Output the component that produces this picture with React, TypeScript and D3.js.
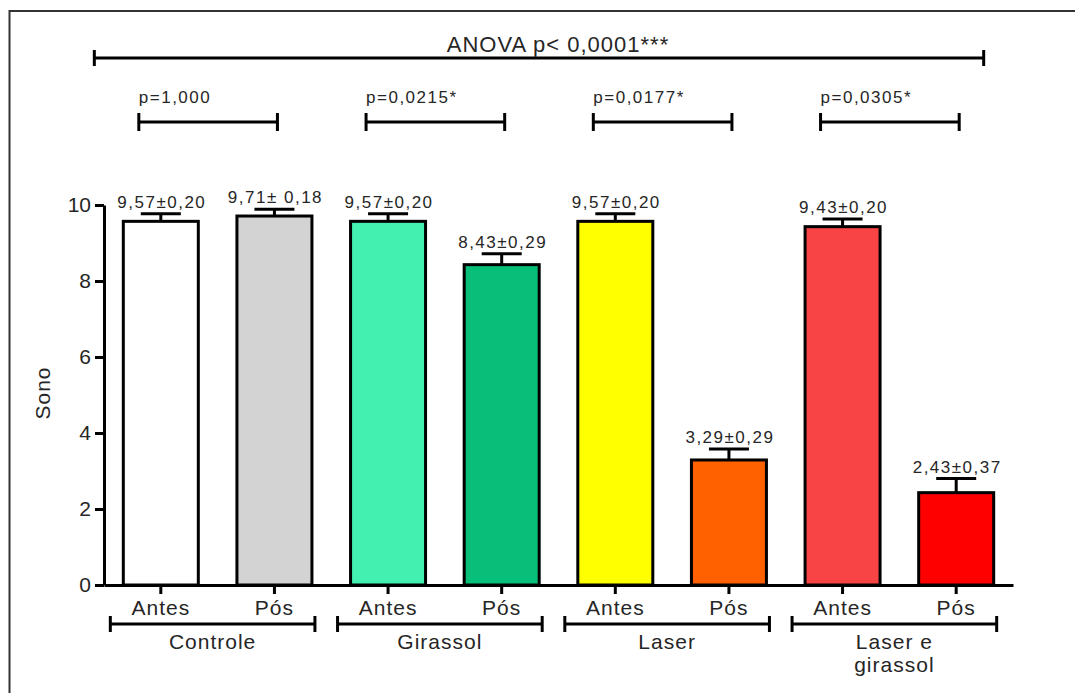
import React, { useEffect, useRef } from 'react';
import * as d3 from 'd3';

// valores (média ± EP)
const groups = ['Controle', 'Girassol', 'Laser', 'Laser e girassol'];
const groupLabelLines = [['Controle'], ['Girassol'], ['Laser'], ['Laser e', 'girassol']];
const moments = ['Antes', 'Pós'];
const categories = ['c-antes', 'c-pos', 'g-antes', 'g-pos', 'l-antes', 'l-pos', 'lg-antes', 'lg-pos'];
const means = [9.57, 9.71, 9.57, 8.43, 9.57, 3.29, 9.43, 2.43];
const sems = [0.2, 0.18, 0.2, 0.29, 0.2, 0.29, 0.2, 0.37];
const valueLabels = ['9,57±0,20', '9,71± 0,18', '9,57±0,20', '8,43±0,29', '9,57±0,20', '3,29±0,29', '9,43±0,20', '2,43±0,37'];
const barColors = ['#ffffff', '#d3d3d3', '#43f0b0', '#08bf7a', '#ffff00', '#ff6000', '#f84444', '#ff0000'];
const pairLabels = ['p=1,000', 'p=0,0215*', 'p=0,0177*', 'p=0,0305*'];
const anovaLabel = 'ANOVA p< 0,0001***';
const yTicks = [0, 2, 4, 6, 8, 10];

const W = 1075;
const H = 693;
const FONT = '"Liberation Sans", Arial, sans-serif';
const INK = '#262626';

export default function App() {
	const ref = useRef<SVGSVGElement>(null);

	useEffect(() => {
		document.body.style.margin = '0';
		const svg = d3.select(ref.current);
		svg.selectAll('*').remove();

		const x = d3.scaleBand<string>().domain(categories).range([104, 1013]).paddingInner(0.34).paddingOuter(0.17);
		const y = d3.scaleLinear().domain([0, 10]).range([585, 205]);
		const bw = x.bandwidth();
		const cx = (i: number) => (x(categories[i]) as number) + bw / 2;

		// moldura
		svg
			.append('rect')
			.attr('x', 9.5)
			.attr('y', 11)
			.attr('width', W + 50)
			.attr('height', H + 50)
			.attr('fill', 'none')
			.attr('stroke', '#333')
			.attr('stroke-width', 2);

		// barras
		svg
			.append('g')
			.selectAll('rect')
			.data(means)
			.join('rect')
			.attr('x', (d, i) => x(categories[i]) as number)
			.attr('y', d => y(d))
			.attr('width', bw)
			.attr('height', d => y(0) - y(d))
			.attr('fill', (d, i) => barColors[i])
			.attr('stroke', '#000')
			.attr('stroke-width', 3);

		// barras de erro (só para cima)
		const err = svg.append('g').attr('stroke', '#000').attr('stroke-width', 3);
		means.forEach((m, i) => {
			const top = y(m + sems[i]);
			err.append('line').attr('x1', cx(i)).attr('x2', cx(i)).attr('y1', y(m)).attr('y2', top);
			err.append('line').attr('x1', cx(i) - 20).attr('x2', cx(i) + 20).attr('y1', top).attr('y2', top);
		});

		// rótulos média±EP
		svg
			.append('g')
			.selectAll('text')
			.data(valueLabels)
			.join('text')
			.attr('x', (d, i) => cx(i) + 1)
			.attr('y', (d, i) => y(means[i] + sems[i]) - 6)
			.attr('text-anchor', 'middle')
			.attr('font-family', FONT)
			.attr('font-size', 17)
			.attr('letter-spacing', 1.5)
			.attr('fill', INK)
			.text(d => d);

		// eixo y
		const yAxis = d3.axisLeft(y).tickValues(yTicks).tickSize(9).tickPadding(4).tickSizeOuter(0);
		const gy = svg.append('g').attr('transform', 'translate(104,0)').call(yAxis);
		gy.select('.domain').attr('stroke', '#000').attr('stroke-width', 3);
		gy.selectAll('.tick line').attr('stroke', '#000').attr('stroke-width', 3);
		gy.selectAll('.tick text').attr('font-family', FONT).attr('font-size', 21).attr('fill', INK);

		// eixo x
		const xAxis = d3
			.axisBottom(x)
			.tickSize(9)
			.tickPadding(6)
			.tickSizeOuter(0)
			.tickFormat((d, i) => moments[i % 2]);
		const gx = svg.append('g').attr('transform', 'translate(0,585)').call(xAxis);
		gx.select('.domain').attr('stroke', '#000').attr('stroke-width', 3);
		gx.selectAll('.tick line').attr('stroke', '#000').attr('stroke-width', 3);
		gx.selectAll('.tick text')
			.attr('font-family', FONT)
			.attr('font-size', 21)
			.attr('letter-spacing', 1)
			.attr('fill', INK)
			.attr('dy', '0.71em');

		const bracket = (g: any, x1: number, x2: number, yy: number, h: number) => {
			g.append('line').attr('x1', x1).attr('x2', x2).attr('y1', yy).attr('y2', yy);
			g.append('line').attr('x1', x1).attr('x2', x1).attr('y1', yy - h).attr('y2', yy + h);
			g.append('line').attr('x1', x2).attr('x2', x2).attr('y1', yy - h).attr('y2', yy + h);
		};

		// chaves dos grupos
		const gg = svg.append('g').attr('stroke', '#000').attr('stroke-width', 3);
		groups.forEach((name, k) => {
			const x1 = (x(categories[2 * k]) as number) - 13;
			const x2 = (x(categories[2 * k + 1]) as number) + bw + 3;
			bracket(gg, x1, x2, 624, 8);
			groupLabelLines[k].forEach((line, j) => {
				svg
					.append('text')
					.attr('x', (x1 + x2) / 2)
					.attr('y', 649 + j * 23)
					.attr('text-anchor', 'middle')
					.attr('font-family', FONT)
					.attr('font-size', 21)
					.attr('letter-spacing', 1)
					.attr('fill', INK)
					.text(line);
			});
		});

		// comparações antes x pós
		const gp = svg.append('g').attr('stroke', '#000').attr('stroke-width', 3);
		pairLabels.forEach((lab, k) => {
			const x1 = cx(2 * k) - 22;
			const x2 = cx(2 * k + 1) + 3;
			bracket(gp, x1, x2, 122, 9);
			svg
				.append('text')
				.attr('x', x1)
				.attr('y', 103)
				.attr('font-family', FONT)
				.attr('font-size', 17)
				.attr('letter-spacing', 1.5)
				.attr('fill', INK)
				.text(lab);
		});

		// ANOVA
		const a1 = (x(categories[0]) as number) - 29;
		const a2 = (x(categories[categories.length - 1]) as number) + bw - 10;
		const ga = svg.append('g').attr('stroke', '#000').attr('stroke-width', 3);
		bracket(ga, a1, a2, 58, 8);
		svg
			.append('text')
			.attr('x', (a1 + a2) / 2 + 19)
			.attr('y', 52)
			.attr('text-anchor', 'middle')
			.attr('font-family', FONT)
			.attr('font-size', 22)
			.attr('letter-spacing', 1)
			.attr('fill', INK)
			.text(anovaLabel);

		// título do eixo y
		svg
			.append('text')
			.attr('transform', 'translate(50,393) rotate(-90)')
			.attr('text-anchor', 'middle')
			.attr('font-family', FONT)
			.attr('font-size', 21)
			.attr('letter-spacing', 1)
			.attr('fill', INK)
			.text('Sono');
	}, []);

	return <svg ref={ref} width={W} height={H} style={{ display: 'block', background: '#fff' }} />;
}
